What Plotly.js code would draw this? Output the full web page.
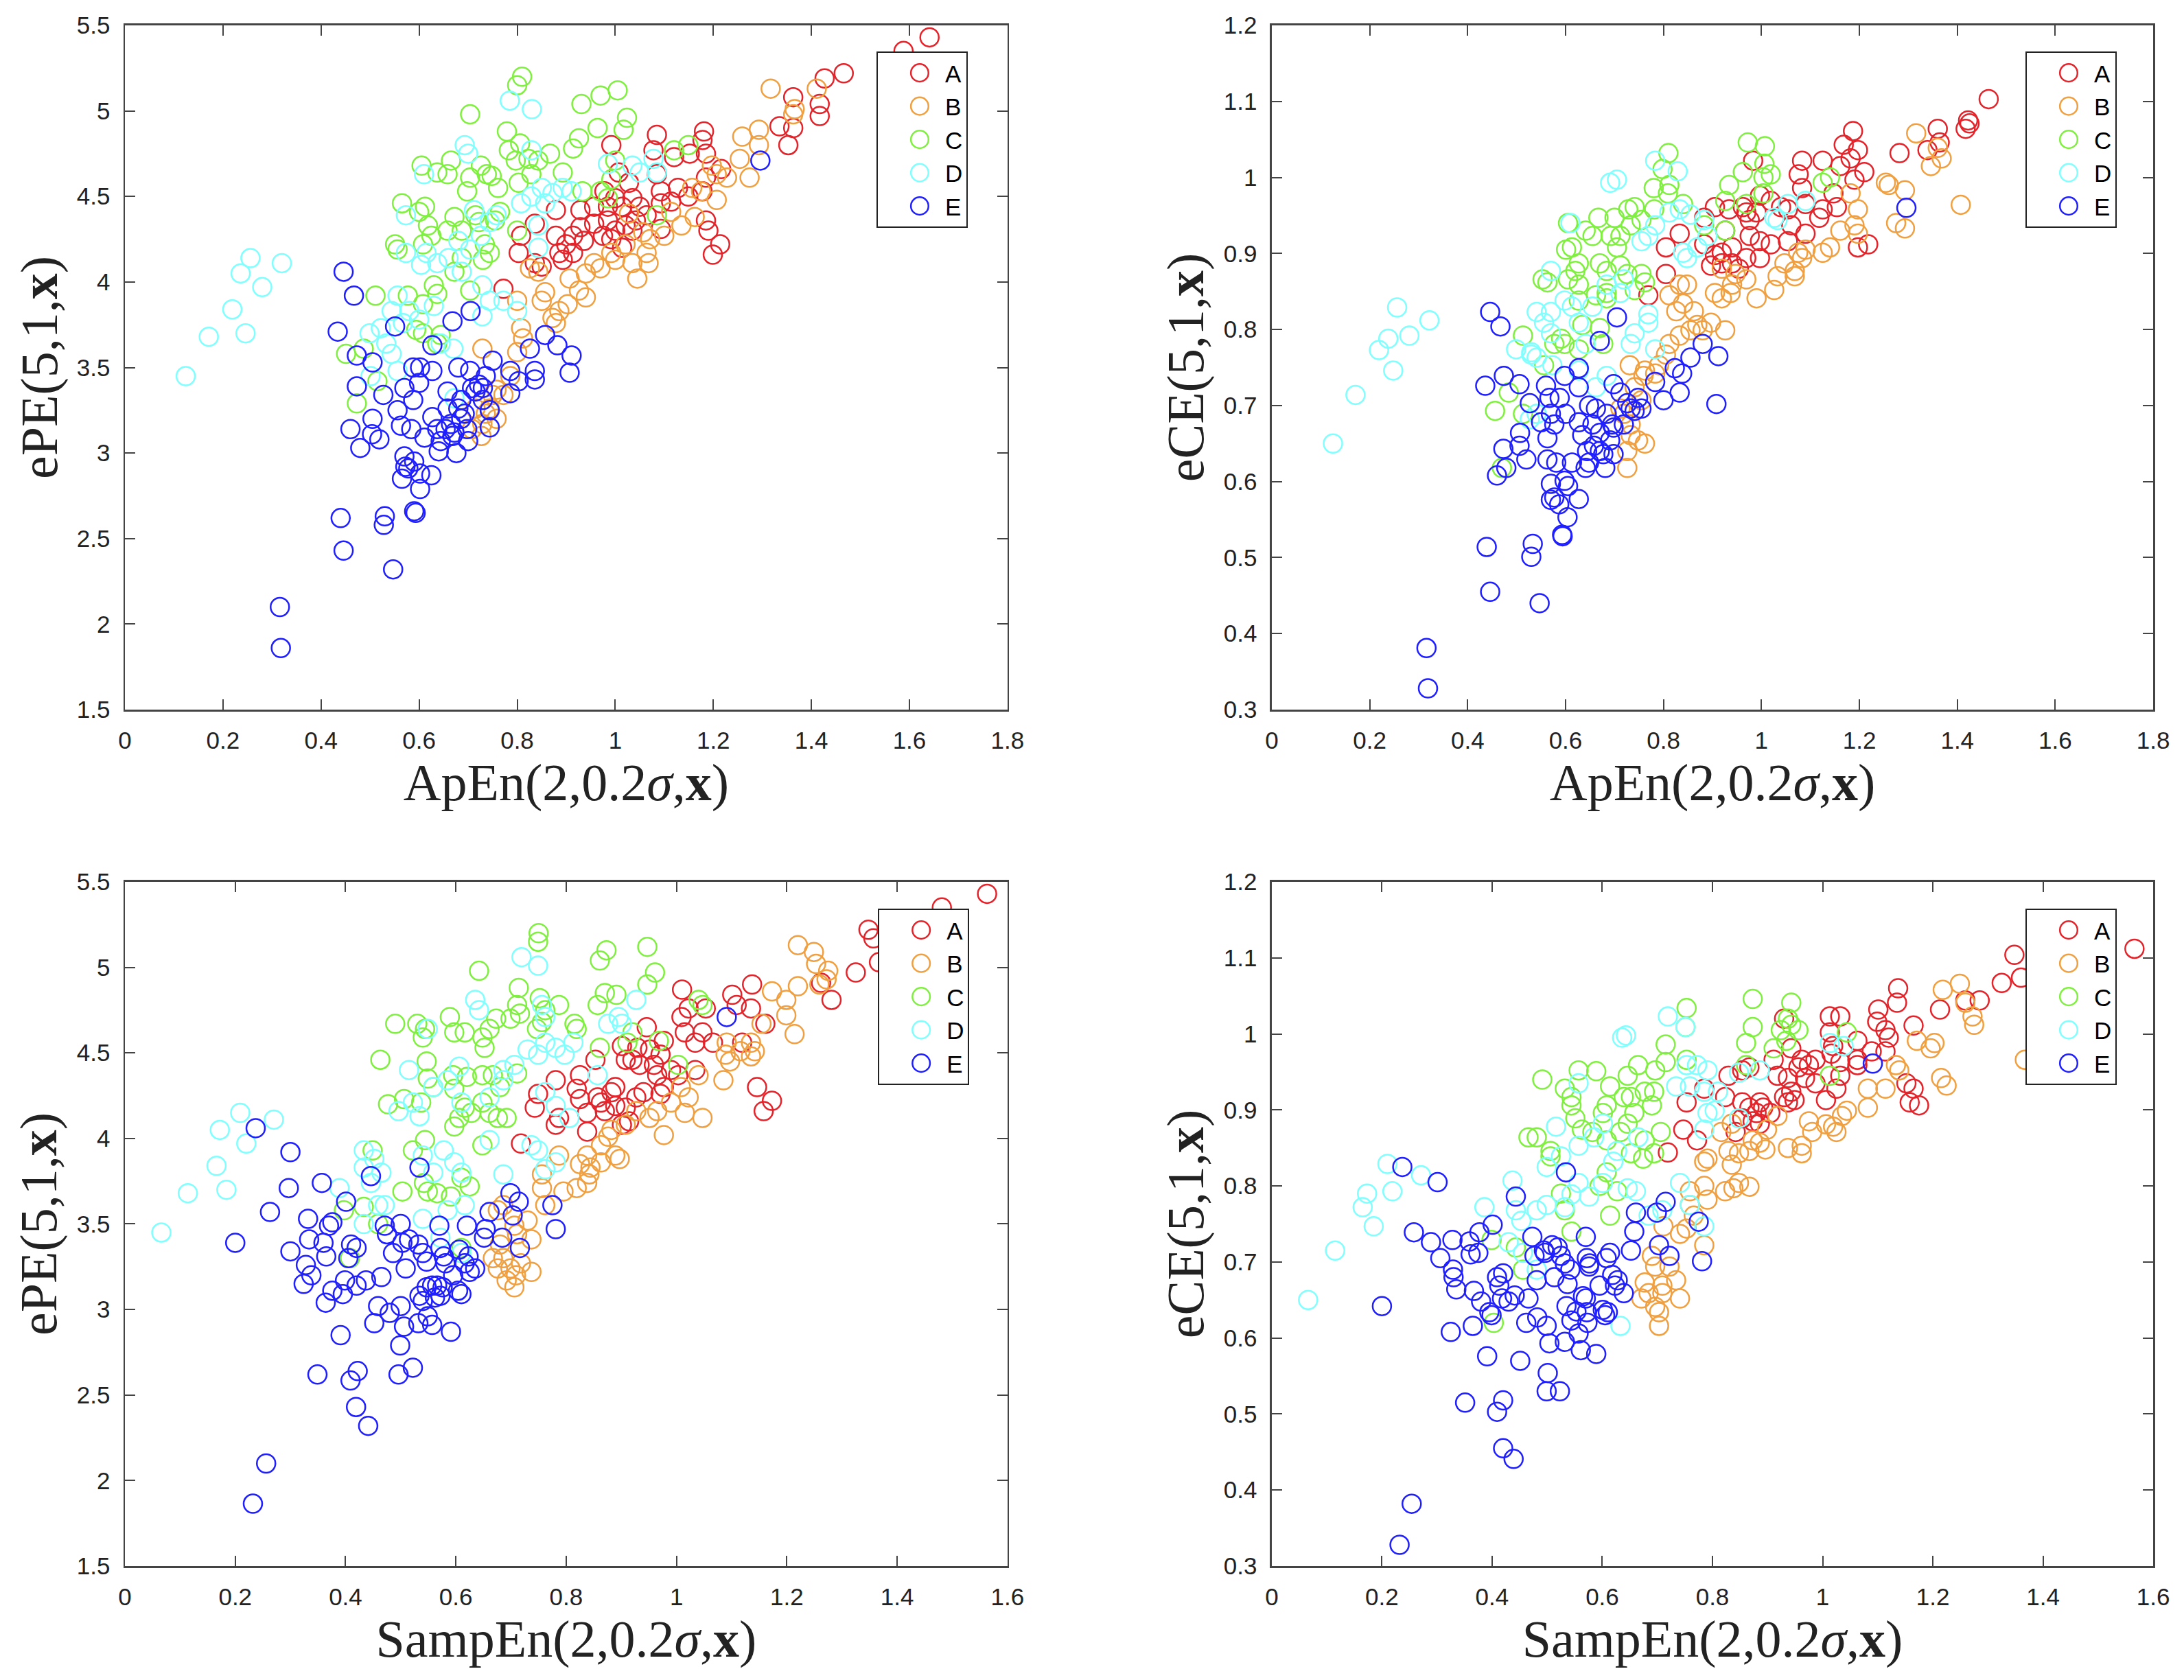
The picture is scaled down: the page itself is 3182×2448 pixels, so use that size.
<!DOCTYPE html>
<html>
<head>
<meta charset="utf-8">
<script src="https://cdn.plot.ly/plotly-3.0.1.min.js"></script>
<style>html,body{margin:0;padding:0;background:#fff;}#plot{width:3182px;height:2448px;}</style>
</head>
<body>
<div id="plot"></div>
<script>
const classes = ['A','B','C','D','E'];
const colors = ['#e3242b','#f0a040','#80f040','#80ffff','#1f1fff'];

// ---------- Top-left: ApEn vs ePE ----------
const tlA_x = [1.641,1.588,1.466,1.427,1.417,1.417,1.363,1.363,1.353,1.335,1.181,1.178,1.185,1.152,1.12,1.216,1.185,1.178,1.149,1.128,1.114,1.093,1.085,1.078,1.085,1.093,1.185,1.19,1.214,1.199,0.992,1.007,1.028,0.978,1.0,1.035,1.05,1.014,0.985,0.957,0.929,0.879,0.985,1.021,1.042,1.093,0.957,0.975,1.0,0.929,0.914,0.936,0.90,0.879,0.886,0.914,0.893,0.836,0.808,0.803,0.836,0.85,0.772,1.035,1.064,0.992,1.014];
const tlA_y = [5.43,5.35,5.22,5.19,5.04,4.97,5.08,4.90,4.80,4.91,4.88,4.83,4.75,4.75,4.73,4.66,4.61,4.53,4.50,4.55,4.47,4.46,4.86,4.77,4.63,4.53,4.36,4.30,4.22,4.16,4.80,4.64,4.58,4.53,4.49,4.49,4.44,4.44,4.44,4.44,4.42,4.42,4.36,4.33,4.36,4.31,4.34,4.27,4.30,4.32,4.27,4.24,4.22,4.27,4.17,4.17,4.13,4.34,4.27,4.17,4.11,4.09,3.96,4.30,4.39,4.25,4.20];
const tlB_x = [1.317,1.411,1.366,1.363,1.259,1.293,1.293,1.254,1.274,1.207,1.197,1.207,1.175,1.157,1.135,1.10,1.071,1.064,1.068,1.045,1.035,1.00,0.992,1.021,0.97,0.957,0.94,0.94,0.926,0.907,0.903,0.886,0.879,0.872,0.843,0.826,0.857,0.85,0.80,0.808,0.812,0.80,0.786,0.758,0.729,0.744,0.758,0.736,0.715,0.729,0.708,0.727,0.75,0.772,1.028,1.057,1.114,1.162,1.228];
const tlB_y = [5.13,5.13,5.01,4.98,4.85,4.89,4.80,4.72,4.61,4.63,4.68,4.48,4.53,4.55,4.33,4.27,4.25,4.17,4.11,4.02,4.11,4.13,4.17,4.22,4.08,4.11,4.05,3.91,3.95,4.02,3.87,3.83,3.76,3.79,4.06,4.08,3.94,3.89,3.89,3.73,3.67,3.59,3.45,3.37,3.61,3.26,3.20,3.23,3.26,3.17,3.14,3.10,3.34,3.34,4.40,4.29,4.41,4.38,4.61];
const tlC_x = [0.81,0.80,0.704,0.931,0.97,1.005,1.024,1.017,0.964,0.926,0.914,0.779,0.806,0.783,0.797,0.823,0.843,0.867,0.829,0.803,0.893,0.704,0.698,0.726,0.738,0.761,0.748,0.665,0.658,0.637,0.605,0.565,0.612,0.60,0.618,0.625,0.608,0.551,0.556,0.672,0.658,0.687,0.715,0.722,0.734,0.755,0.765,0.744,0.73,0.687,0.672,0.63,0.637,0.608,0.577,0.511,0.594,0.608,0.637,0.644,0.704,0.451,0.487,0.515,0.473,0.933,0.97,0.992,1.00,1.085,1.12,1.149,0.985,0.80];
const tlC_y = [5.20,5.15,4.98,5.04,5.09,5.12,4.96,4.89,4.90,4.84,4.78,4.88,4.81,4.77,4.71,4.72,4.71,4.75,4.63,4.58,4.64,4.61,4.53,4.68,4.63,4.55,4.62,4.71,4.63,4.64,4.68,4.46,4.44,4.41,4.33,4.27,4.22,4.22,4.19,4.38,4.30,4.30,4.39,4.35,4.22,4.36,4.41,4.17,4.13,4.14,4.06,3.98,3.93,3.87,3.92,3.92,3.72,3.70,3.64,3.69,3.95,3.58,3.61,3.42,3.29,4.53,4.53,4.60,4.71,4.39,4.77,4.80,4.49,4.30];
const tlD_x = [0.124,0.171,0.219,0.236,0.256,0.246,0.28,0.32,0.785,0.83,0.693,0.70,0.61,0.573,0.573,0.604,0.58,0.544,0.556,0.567,0.533,0.499,0.544,0.556,0.501,0.522,0.60,0.63,0.644,0.67,0.615,0.637,0.66,0.68,0.687,0.704,0.712,0.726,0.744,0.758,0.729,0.744,0.772,0.729,0.80,0.808,0.829,0.85,0.872,0.893,0.911,0.857,0.843,0.843,0.829,1.035,1.05,1.085,1.078,0.985,0.672];
const tlD_y = [3.45,3.68,3.84,4.05,4.14,3.70,3.97,4.11,5.06,5.01,4.80,4.75,4.63,4.39,4.17,4.10,3.83,3.83,3.92,3.76,3.64,3.70,3.58,3.48,3.45,3.73,3.78,3.86,3.64,3.61,4.17,4.11,4.14,4.24,4.06,4.19,4.42,4.27,4.35,4.39,3.98,3.89,3.89,3.80,3.83,4.46,4.50,4.55,4.52,4.55,4.53,4.46,4.20,4.33,4.77,4.68,4.64,4.64,4.72,4.69,3.32];
const tlE_x = [0.316,0.318,0.44,0.446,0.53,0.528,0.547,0.59,0.593,0.446,0.467,0.434,0.551,0.473,0.505,0.473,0.527,0.46,0.48,0.505,0.504,0.519,0.556,0.563,0.57,0.588,0.588,0.60,0.602,0.627,0.627,0.668,0.705,0.57,0.572,0.565,0.578,0.602,0.602,0.625,0.59,0.584,0.611,0.627,0.637,0.644,0.64,0.658,0.665,0.672,0.676,0.68,0.686,0.693,0.698,0.70,0.704,0.715,0.722,0.73,0.736,0.744,0.75,0.744,0.658,0.68,0.686,0.654,0.668,0.786,0.803,0.786,0.826,0.836,0.836,0.857,0.882,0.911,0.907,1.296,0.73,0.708];
const tlE_y = [2.10,1.86,2.62,2.43,2.63,2.58,2.32,2.66,2.65,4.06,3.92,3.71,3.74,3.57,3.53,3.39,3.34,3.14,3.03,3.20,3.11,3.08,3.25,3.16,3.38,3.31,3.50,3.41,3.50,3.48,3.63,3.77,3.83,2.98,2.92,2.85,2.91,2.88,2.79,2.87,2.95,3.14,3.09,3.21,3.14,3.07,3.01,3.36,3.17,3.12,3.00,3.50,3.31,3.23,3.14,3.07,3.48,3.36,3.40,3.31,3.45,3.15,3.54,3.25,3.26,3.26,3.20,3.14,3.10,3.48,3.42,3.35,3.61,3.48,3.43,3.69,3.63,3.57,3.47,4.71,3.38,3.38];

// ---------- Top-right: ApEn vs eCE ----------
const trA_x = [1.464,1.422,1.417,1.425,1.36,1.364,1.339,1.282,1.187,1.168,1.182,1.161,1.125,1.083,1.076,1.21,1.19,1.147,1.154,1.125,1.118,1.09,1.083,1.09,1.054,1.054,1.04,1.019,0.997,0.99,0.976,0.997,1.019,0.976,0.997,0.983,0.962,0.934,0.905,0.883,0.926,0.94,0.919,0.905,0.897,0.919,0.94,0.954,0.969,0.883,0.833,0.805,0.805,0.769,1.197,1.218,1.197,0.969,1.061];
const trA_y = [1.103,1.075,1.064,1.071,1.064,1.046,1.036,1.032,1.061,1.043,1.025,1.015,1.022,1.022,1.004,1.007,0.997,0.979,0.961,0.958,0.947,0.965,0.986,0.926,0.916,0.958,0.961,0.969,0.976,0.954,0.944,0.916,0.912,0.923,0.894,1.022,0.961,0.958,0.961,0.947,0.930,0.908,0.901,0.898,0.884,0.887,0.887,0.880,0.894,0.912,0.926,0.908,0.873,0.845,0.908,0.912,1.036,0.954,0.937];
const trB_x = [1.316,1.346,1.368,1.407,1.254,1.26,1.293,1.275,1.293,1.182,1.197,1.19,1.197,1.161,1.14,1.125,1.09,1.075,1.083,1.047,1.068,1.068,1.033,1.026,0.99,0.969,0.94,0.937,0.919,0.905,0.947,0.919,0.926,0.897,0.88,0.869,0.855,0.833,0.862,0.84,0.826,0.812,0.805,0.791,0.783,0.762,0.759,0.731,0.741,0.755,0.733,0.733,0.748,0.762,0.726,0.726,0.712,0.719,0.812,0.833,0.848,1.36];
const trB_y = [1.058,1.015,1.025,0.964,0.993,0.990,0.983,0.940,0.933,0.979,0.958,0.937,0.926,0.930,0.908,0.901,0.905,0.901,0.894,0.887,0.877,0.870,0.870,0.852,0.841,0.866,0.859,0.848,0.841,0.848,0.873,0.880,0.799,0.809,0.799,0.806,0.799,0.792,0.824,0.834,0.824,0.781,0.767,0.753,0.742,0.746,0.739,0.753,0.724,0.707,0.675,0.661,0.654,0.650,0.640,0.618,0.696,0.689,0.845,0.859,0.859,1.039];
const trC_x = [0.972,1.007,1.006,1.019,1.004,0.962,0.934,0.926,0.969,0.81,0.798,0.78,0.809,0.781,0.741,0.728,0.70,0.667,0.641,0.605,0.613,0.601,0.655,0.692,0.705,0.712,0.733,0.755,0.627,0.62,0.605,0.627,0.553,0.563,0.67,0.684,0.712,0.726,0.755,0.762,0.741,0.684,0.662,0.627,0.634,0.591,0.598,0.577,0.67,0.677,0.627,0.556,0.513,0.484,0.456,0.47,0.513,0.812,0.84,0.883,0.926,1.004,1.14,1.125,0.684];
const trC_y = [1.046,1.041,1.018,1.004,1.000,1.007,0.990,0.969,0.965,1.032,1.011,0.986,0.979,0.958,0.961,0.958,0.947,0.947,0.930,0.940,0.908,0.905,0.923,0.923,0.908,0.923,0.937,0.944,0.887,0.877,0.866,0.859,0.866,0.862,0.887,0.877,0.884,0.873,0.873,0.862,0.852,0.848,0.845,0.838,0.806,0.788,0.781,0.781,0.802,0.781,0.774,0.753,0.792,0.717,0.693,0.618,0.689,0.990,0.965,0.937,0.930,0.979,1.000,0.993,0.841];
const trD_x = [0.125,0.171,0.219,0.238,0.256,0.248,0.281,0.322,0.783,0.829,0.691,0.705,0.61,0.57,0.541,0.57,0.556,0.57,0.499,0.53,0.541,0.53,0.573,0.627,0.613,0.598,0.627,0.641,0.712,0.719,0.684,0.655,0.733,0.741,0.769,0.769,0.783,0.684,0.662,0.755,0.769,0.783,0.812,0.833,0.855,0.84,0.848,0.869,0.883,0.89,1.026,1.033,1.054,1.09,0.527,0.541];
const trD_y = [0.650,0.714,0.773,0.788,0.829,0.746,0.792,0.812,1.022,1.008,0.993,0.997,0.940,0.877,0.823,0.823,0.809,0.795,0.774,0.767,0.763,0.770,0.753,0.809,0.830,0.838,0.746,0.781,0.848,0.866,0.859,0.830,0.781,0.795,0.809,0.820,0.774,0.739,0.724,0.916,0.923,0.937,0.954,0.958,0.951,0.901,0.894,0.908,0.944,0.923,0.947,0.944,0.965,0.969,0.682,0.689];
const trE_x = [0.316,0.319,0.446,0.439,0.533,0.53,0.547,0.593,0.594,0.446,0.467,0.436,0.474,0.506,0.56,0.527,0.507,0.506,0.473,0.479,0.46,0.52,0.563,0.581,0.613,0.57,0.577,0.57,0.587,0.605,0.598,0.627,0.604,0.55,0.567,0.577,0.563,0.57,0.588,0.60,0.627,0.598,0.627,0.627,0.67,0.705,0.634,0.644,0.648,0.641,0.658,0.67,0.681,0.677,0.691,0.695,0.684,0.662,0.648,0.655,0.67,0.698,0.698,0.712,0.726,0.748,0.733,0.741,0.755,0.719,0.698,0.783,0.80,0.823,0.838,0.833,0.855,0.88,0.912,0.908,1.296];
const trE_y = [0.381,0.328,0.455,0.514,0.518,0.501,0.440,0.530,0.528,0.823,0.804,0.726,0.739,0.728,0.726,0.703,0.664,0.647,0.643,0.618,0.608,0.629,0.629,0.625,0.625,0.597,0.579,0.576,0.570,0.594,0.601,0.577,0.553,0.678,0.710,0.675,0.657,0.689,0.710,0.689,0.678,0.739,0.724,0.749,0.785,0.816,0.661,0.640,0.625,0.618,0.647,0.640,0.618,0.636,0.654,0.675,0.689,0.696,0.700,0.675,0.664,0.636,0.728,0.717,0.703,0.710,0.696,0.693,0.696,0.675,0.671,0.731,0.707,0.749,0.742,0.717,0.763,0.781,0.765,0.702,0.960];

// ---------- Bottom-left: SampEn vs ePE ----------
const blA_x = [1.563,1.481,1.348,1.357,1.367,1.325,1.281,1.262,1.137,1.101,1.109,1.135,1.161,1.01,1.022,1.009,1.015,1.047,1.066,1.034,1.053,0.946,0.929,0.901,0.908,0.933,0.959,0.971,0.977,0.952,0.965,0.99,0.977,0.971,0.94,0.927,0.92,1.003,1.034,1.146,1.173,1.158,0.853,0.825,0.781,0.819,0.825,0.857,0.882,0.889,0.889,0.87,0.863,0.838,0.908,0.914,0.901,0.787,0.781,0.838,0.743,0.749,0.718,1.119];
const blA_y = [5.43,5.35,5.22,5.17,5.03,4.97,4.81,4.91,4.90,4.84,4.78,4.76,4.67,4.87,4.76,4.71,4.62,4.62,4.56,4.56,4.76,4.65,4.53,4.54,4.46,4.43,4.43,4.49,4.57,4.52,4.37,4.40,4.30,4.26,4.27,4.24,4.46,4.37,4.40,4.30,4.22,4.16,4.46,4.37,4.34,4.29,4.23,4.24,4.27,4.30,4.19,4.16,4.21,4.15,4.18,4.10,4.08,4.12,4.08,4.04,4.18,4.26,3.97,4.56];
const blB_x = [1.22,1.249,1.253,1.275,1.272,1.259,1.22,1.173,1.199,1.199,1.214,1.154,1.135,1.135,1.142,1.116,1.097,1.089,1.085,1.04,1.008,1.022,1.015,1.047,0.99,0.965,0.951,0.977,0.927,0.908,0.882,0.876,0.863,0.863,0.889,0.897,0.838,0.844,0.842,0.838,0.819,0.825,0.787,0.795,0.756,0.756,0.762,0.73,0.737,0.711,0.737,0.718,0.699,0.686,0.676,0.667,0.68,0.706,0.709,0.692,0.686,0.676,0.706,1.091];
const blB_y = [5.13,5.09,5.02,4.98,4.93,4.90,4.89,4.86,4.81,4.72,4.61,4.67,4.56,4.48,4.51,4.51,4.45,4.49,4.34,4.37,4.30,4.24,4.15,4.12,4.21,4.16,4.12,4.02,4.16,4.08,4.05,4.01,3.96,3.86,3.90,3.88,3.90,3.83,3.79,3.74,3.71,3.85,3.90,3.69,3.79,3.71,3.61,3.52,3.41,3.44,3.22,3.27,3.24,3.30,3.24,3.30,3.38,3.13,3.20,3.17,3.61,3.58,3.49,4.56];
const blC_x = [0.75,0.749,0.642,0.861,0.873,0.947,0.961,0.947,0.87,0.857,0.714,0.752,0.711,0.716,0.673,0.762,0.787,0.891,0.699,0.747,0.756,0.815,0.819,0.589,0.597,0.616,0.661,0.648,0.652,0.49,0.53,0.54,0.544,0.463,0.547,0.549,0.559,0.477,0.506,0.537,0.597,0.595,0.62,0.648,0.667,0.68,0.711,0.616,0.628,0.648,0.661,0.676,0.692,0.597,0.606,0.544,0.522,0.449,0.542,0.549,0.566,0.591,0.61,0.625,0.648,0.503,0.433,0.397,0.408,0.459,0.911,0.968,1.04,1.047,1.003,0.92,0.861,0.61];
const blC_y = [5.20,5.15,4.98,5.04,5.10,5.12,4.97,4.90,4.85,4.78,4.88,4.82,4.78,4.73,4.70,4.75,4.78,4.84,4.70,4.64,4.68,4.67,4.64,4.71,4.62,4.62,4.64,4.59,4.53,4.67,4.67,4.59,4.64,4.46,4.45,4.35,4.30,4.20,4.23,4.21,4.29,4.37,4.36,4.37,4.37,4.30,4.38,4.18,4.15,4.21,4.15,4.12,4.12,4.07,4.12,3.99,3.93,3.93,3.74,3.69,3.68,3.66,3.77,3.72,3.96,3.69,3.60,3.58,3.30,3.50,4.56,4.57,4.81,4.78,4.43,4.62,4.53,3.36];
const blD_x = [0.066,0.114,0.184,0.166,0.172,0.209,0.22,0.27,0.719,0.749,0.635,0.642,0.549,0.515,0.606,0.585,0.559,0.522,0.534,0.496,0.433,0.452,0.433,0.465,0.446,0.433,0.459,0.471,0.389,0.54,0.559,0.578,0.597,0.61,0.616,0.585,0.54,0.572,0.61,0.661,0.686,0.737,0.749,0.762,0.781,0.686,0.706,0.686,0.661,0.73,0.749,0.762,0.781,0.797,0.813,0.781,0.762,0.806,0.762,0.756,0.857,0.876,0.895,0.901,0.927,0.61];
const blD_y = [3.45,3.68,3.70,3.84,4.05,4.15,3.97,4.11,5.06,5.01,4.81,4.75,4.64,4.40,4.42,4.34,4.30,4.21,4.13,4.16,3.93,3.88,3.83,3.80,3.74,3.50,3.61,3.61,3.71,3.90,3.80,3.93,3.86,3.80,3.61,3.58,3.53,3.42,3.33,3.99,3.79,3.96,3.93,3.82,3.86,4.40,4.43,4.34,4.24,4.52,4.49,4.56,4.53,4.49,4.56,4.19,4.27,4.12,4.71,4.78,4.37,4.67,4.71,4.67,4.81,4.21];
const blE_x = [0.232,0.256,0.349,0.409,0.422,0.419,0.441,0.496,0.522,0.499,0.391,0.237,0.30,0.20,0.263,0.297,0.332,0.357,0.30,0.334,0.328,0.324,0.338,0.364,0.365,0.37,0.376,0.36,0.376,0.395,0.399,0.405,0.41,0.42,0.401,0.446,0.42,0.437,0.465,0.459,0.452,0.48,0.50,0.506,0.471,0.475,0.50,0.486,0.503,0.515,0.509,0.532,0.534,0.534,0.532,0.54,0.547,0.557,0.562,0.566,0.572,0.576,0.549,0.557,0.591,0.57,0.572,0.578,0.581,0.54,0.547,0.595,0.604,0.606,0.616,0.623,0.625,0.635,0.61,0.62,0.651,0.654,0.661,0.684,0.699,0.714,0.703,0.716,0.775,0.781,1.091];
const blE_y = [1.865,2.10,2.62,2.585,2.64,2.43,2.32,2.62,2.66,2.79,2.85,4.06,3.92,3.39,3.57,3.71,3.53,3.74,3.34,3.41,3.26,3.15,3.20,3.04,3.31,3.49,3.51,3.39,3.11,3.09,3.17,3.30,3.38,3.36,3.63,3.78,3.14,3.17,3.19,3.02,2.92,2.98,3.02,2.90,3.49,3.44,3.50,3.33,3.39,3.41,3.24,3.38,3.83,3.08,2.92,3.05,3.13,3.14,3.07,3.14,3.08,3.13,2.96,2.91,2.87,3.49,3.36,3.31,3.27,3.33,3.28,3.20,3.11,3.35,3.27,3.31,3.22,3.24,3.09,3.49,3.42,3.47,3.57,3.42,3.68,3.63,3.55,3.36,3.61,3.47,4.71];

// ---------- Bottom-right: SampEn vs eCE ----------
const brA_x = [1.566,1.348,1.325,1.36,1.285,1.259,1.213,1.137,1.135,1.101,1.099,1.114,1.12,1.165,1.114,1.089,1.063,1.063,1.013,1.032,1.013,1.019,1.016,1.032,1.032,1.025,0.987,0.975,0.962,0.956,0.968,0.943,0.93,0.911,0.918,0.937,0.943,0.949,0.93,0.905,0.937,1.006,0.987,0.886,0.88,0.892,0.867,0.854,0.873,0.886,0.854,0.842,0.829,0.823,0.867,0.854,0.785,0.772,0.753,0.747,0.719,1.158,1.175,1.165,1.152,1.063];
const brA_y = [1.112,1.104,1.067,1.074,1.044,1.044,1.032,1.060,1.041,1.032,1.016,1.005,0.995,1.011,0.977,0.977,0.991,0.966,1.023,1.023,1.002,0.984,0.974,0.963,0.945,0.928,0.966,0.959,0.966,0.956,0.942,0.981,1.020,0.966,0.945,0.942,0.924,0.913,0.917,0.896,0.910,0.913,0.935,0.910,0.896,0.903,0.903,0.889,0.885,0.882,0.910,0.871,0.945,0.917,0.956,0.952,0.928,0.860,0.910,0.874,0.844,0.910,0.906,0.928,0.935,0.959];
const brB_x = [1.218,1.249,1.259,1.272,1.275,1.171,1.203,1.196,1.133,1.139,1.215,1.225,1.114,1.082,1.082,1.044,1.035,1.019,1.025,1.006,0.975,0.981,0.962,0.962,0.937,0.918,0.899,0.886,0.896,0.867,0.873,0.835,0.816,0.829,0.848,0.791,0.785,0.835,0.848,0.838,0.823,0.867,0.785,0.791,0.759,0.759,0.766,0.753,0.785,0.741,0.711,0.69,0.696,0.722,0.734,0.709,0.677,0.684,0.709,0.741,0.671,0.696,0.703,0.703,1.367];
const brB_y = [1.058,1.066,1.041,1.023,1.012,0.991,0.988,0.981,0.959,0.952,0.942,0.932,0.928,0.928,0.903,0.899,0.892,0.878,0.871,0.881,0.885,0.871,0.853,0.843,0.850,0.892,0.874,0.857,0.848,0.846,0.860,0.882,0.871,0.846,0.843,0.836,0.832,0.828,0.804,0.797,0.793,0.799,0.800,0.782,0.793,0.775,0.761,0.744,0.722,0.737,0.747,0.708,0.694,0.694,0.676,0.669,0.673,0.659,0.659,0.652,0.652,0.641,0.634,0.616,0.966];
const brC_x = [0.873,0.943,0.937,0.924,0.956,0.934,0.873,0.861,0.753,0.751,0.715,0.715,0.696,0.665,0.646,0.614,0.589,0.557,0.491,0.532,0.544,0.544,0.551,0.608,0.639,0.652,0.677,0.694,0.69,0.658,0.646,0.633,0.608,0.601,0.582,0.563,0.466,0.481,0.506,0.506,0.525,0.532,0.608,0.595,0.627,0.652,0.674,0.694,0.706,0.677,0.614,0.544,0.443,0.399,0.403,0.456,0.911,0.943,1.044,1.013,0.753,0.861];
const brC_y = [1.046,1.041,1.020,1.005,1.005,0.991,1.009,0.988,1.034,1.009,0.986,0.963,0.952,0.959,0.945,0.931,0.951,0.952,0.940,0.928,0.906,0.917,0.889,0.906,0.917,0.917,0.924,0.924,0.906,0.896,0.882,0.871,0.860,0.896,0.871,0.874,0.864,0.864,0.846,0.839,0.790,0.768,0.818,0.800,0.793,0.843,0.836,0.843,0.871,0.860,0.761,0.740,0.719,0.729,0.620,0.690,0.981,1.012,1.002,0.945,0.966,0.959];
const brD_x = [0.066,0.115,0.165,0.173,0.21,0.185,0.219,0.271,0.719,0.751,0.636,0.643,0.557,0.516,0.601,0.585,0.557,0.525,0.499,0.437,0.386,0.443,0.453,0.481,0.499,0.532,0.544,0.557,0.576,0.601,0.62,0.627,0.646,0.661,0.665,0.633,0.43,0.456,0.481,0.684,0.709,0.741,0.759,0.734,0.759,0.772,0.791,0.753,0.785,0.791,0.804,0.785,0.81,0.848,0.886,1.013,1.038,0.848,0.785];
const brD_y = [0.650,0.715,0.772,0.790,0.829,0.747,0.793,0.814,1.023,1.009,0.995,0.998,0.935,0.878,0.882,0.864,0.853,0.839,0.825,0.807,0.772,0.768,0.754,0.768,0.775,0.772,0.789,0.804,0.786,0.804,0.832,0.846,0.797,0.793,0.864,0.616,0.726,0.712,0.690,0.761,0.768,0.804,0.775,0.931,0.931,0.959,0.952,0.959,0.924,0.896,0.899,0.874,0.924,0.949,0.952,0.988,0.984,0.889,0.747];
const brE_x = [0.232,0.254,0.351,0.409,0.42,0.42,0.439,0.499,0.523,0.501,0.391,0.451,0.237,0.301,0.20,0.258,0.289,0.306,0.328,0.359,0.361,0.375,0.377,0.329,0.33,0.335,0.367,0.38,0.325,0.365,0.401,0.395,0.399,0.409,0.413,0.42,0.43,0.418,0.443,0.441,0.462,0.466,0.473,0.477,0.481,0.482,0.499,0.504,0.494,0.496,0.509,0.513,0.519,0.525,0.532,0.534,0.532,0.537,0.542,0.535,0.544,0.553,0.557,0.561,0.565,0.57,0.572,0.573,0.57,0.572,0.576,0.577,0.589,0.595,0.601,0.605,0.61,0.608,0.614,0.618,0.623,0.628,0.639,0.652,0.658,0.661,0.699,0.703,0.715,0.722,0.775,0.781,1.091];
const brE_y = [0.328,0.382,0.515,0.503,0.518,0.455,0.441,0.530,0.530,0.554,0.576,0.570,0.825,0.805,0.642,0.739,0.726,0.705,0.729,0.727,0.710,0.712,0.739,0.690,0.680,0.664,0.662,0.648,0.608,0.616,0.749,0.634,0.630,0.680,0.669,0.685,0.648,0.652,0.786,0.656,0.620,0.652,0.733,0.708,0.676,0.627,0.616,0.593,0.715,0.712,0.722,0.680,0.719,0.708,0.698,0.818,0.595,0.671,0.690,0.642,0.623,0.635,0.606,0.584,0.655,0.652,0.634,0.620,0.733,0.705,0.694,0.698,0.579,0.669,0.637,0.630,0.634,0.705,0.712,0.683,0.669,0.676,0.659,0.715,0.740,0.765,0.765,0.722,0.779,0.708,0.753,0.701,0.961];

// ---------- assemble ----------
const panels = [
  {xa:'x',  ya:'y',  leg:'legend',  xs:[tlA_x,tlB_x,tlC_x,tlD_x,tlE_x], ys:[tlA_y,tlB_y,tlC_y,tlD_y,tlE_y]},
  {xa:'x2', ya:'y2', leg:'legend2', xs:[trA_x,trB_x,trC_x,trD_x,trE_x], ys:[trA_y,trB_y,trC_y,trD_y,trE_y]},
  {xa:'x3', ya:'y3', leg:'legend3', xs:[blA_x,blB_x,blC_x,blD_x,blE_x], ys:[blA_y,blB_y,blC_y,blD_y,blE_y]},
  {xa:'x4', ya:'y4', leg:'legend4', xs:[brA_x,brB_x,brC_x,brD_x,brE_x], ys:[brA_y,brB_y,brC_y,brD_y,brE_y]}
];
const traces = [];
panels.forEach(p => {
  classes.forEach((c, i) => {
    traces.push({
      type:'scatter', mode:'markers', name:c,
      x:p.xs[i], y:p.ys[i], xaxis:p.xa, yaxis:p.ya, legend:p.leg,
      marker:{symbol:'circle-open', size:27, color:colors[i], line:{width:2.5, color:colors[i]}},
      hoverinfo:'skip'
    });
  });
});

const tickFont = {family:'Liberation Sans, Arial, sans-serif', size:35, color:'#222'};
const titleFont = {family:'Liberation Serif, Times New Roman, serif', size:76, color:'#222'};
function ax(domain, range, dtick, anchor, title, isX) {
  return {
    domain:domain, range:range, dtick:dtick, tick0:0, anchor:anchor,
    showgrid:false, zeroline:false, showline:true, linecolor:'#444', linewidth:2.5,
    mirror:'ticks', ticks:'inside', ticklen:15, tickwidth:2, tickcolor:'#444',
    tickfont:tickFont, ticklabelstandoff:12,
    title:{text:title, font:titleFont, standoff: isX ? 10 : 4}
  };
}
const XL = [0.0572, 0.4613], XR = [0.5823, 0.9859];
const YT = [0.5776, 0.9849], YB = [0.0678, 0.4751];
const apen = 'ApEn(2,0.2<i>σ</i>,<b>x</b>)';
const sampen = 'SampEn(2,0.2<i>σ</i>,<b>x</b>)';
const epe = 'ePE(5,1,<b>x</b>)';
const ece = 'eCE(5,1,<b>x</b>)';

function leg(x, y) {
  return {x:x, y:y, xanchor:'left', yanchor:'top', bgcolor:'#fff', bordercolor:'#222', borderwidth:2,
    font:{family:'Liberation Sans, Arial, sans-serif', size:35, color:'#000'}, itemwidth:88, tracegroupgap:0};
}

const layout = {
  width:3182, height:2448, paper_bgcolor:'#fff', plot_bgcolor:'#fff',
  margin:{l:0, r:0, t:0, b:0}, showlegend:true,
  xaxis:  ax(XL, [0,1.8], 0.2, 'y',  apen, true),
  yaxis:  ax(YT, [1.5,5.5], 0.5, 'x', epe, false),
  xaxis2: ax(XR, [0,1.8], 0.2, 'y2', apen, true),
  yaxis2: ax(YT, [0.3,1.2], 0.1, 'x2', ece, false),
  xaxis3: ax(XL, [0,1.6], 0.2, 'y3', sampen, true),
  yaxis3: ax(YB, [1.5,5.5], 0.5, 'x3', epe, false),
  xaxis4: ax(XR, [0,1.6], 0.2, 'y4', sampen, true),
  yaxis4: ax(YB, [0.3,1.2], 0.1, 'x4', ece, false),
  legend:  leg(0.4013, 0.9694),
  legend2: leg(0.9274, 0.9694),
  legend3: leg(0.4020, 0.4592),
  legend4: leg(0.9274, 0.4592)
};

Plotly.newPlot('plot', traces, layout, {staticPlot:true}).then(gd => {
  // enlarge legend symbols to match the plotted marker size
  gd.querySelectorAll('.legendpoints path.scatterpts').forEach(p => {
    const t = p.getAttribute('transform') || '';
    p.setAttribute('transform', 'translate(12,0) ' + t + ' scale(1.6)');
    p.style.strokeWidth = (2.5 / 1.6) + 'px';
  });
});
</script>
</body>
</html>
